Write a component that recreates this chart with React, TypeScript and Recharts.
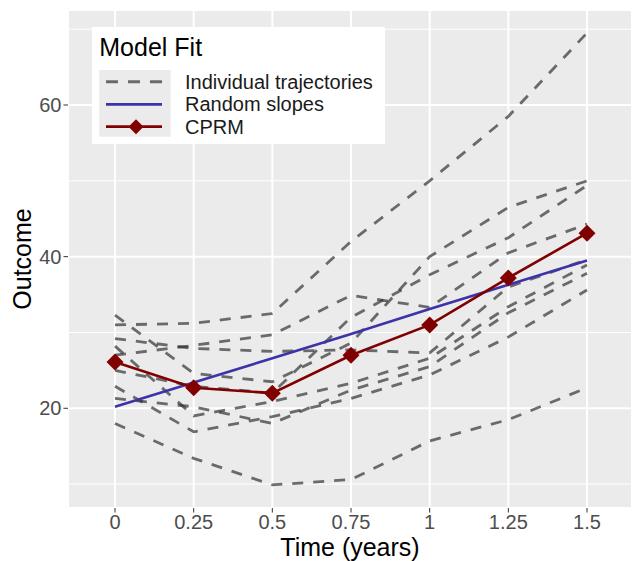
import React from 'react';
import { LineChart, Line, XAxis, YAxis, CartesianGrid, ReferenceLine, Legend } from 'recharts';

const times = [0, 0.25, 0.5, 0.75, 1, 1.25, 1.5];

const trajA = [31.0, 31.2, 32.5, 42.0, 50.0, 58.5, 69.5];
const trajB = [27.0, 28.3, 29.7, 34.9, 33.3, 40.5, 44.3];
const trajC = [29.2, 27.9, 27.5, 27.7, 27.3, 36.0, 39.6];
const trajD = [32.3, 24.6, 23.5, 28.6, 40.0, 46.5, 50.0];
const trajE = [25.0, 22.9, 22.0, 32.0, 37.6, 42.5, 49.4];
const trajF = [28.2, 19.0, 20.9, 23.3, 26.6, 33.4, 38.9];
const trajG = [21.3, 20.2, 18.0, 22.4, 25.5, 32.6, 37.8];
const trajH = [22.9, 16.9, 18.9, 21.3, 24.4, 29.4, 35.6];
const trajI = [18.0, 13.4, 9.9, 10.6, 15.7, 18.5, 22.7];

const individualSeries = [trajA, trajB, trajC, trajD, trajE, trajF, trajG, trajH, trajI];
const randomSlopes = [20.2, 23.4, 26.6, 29.8, 33.1, 36.3, 39.5];
const cprm = [26.1, 22.7, 22.0, 27.0, 31.0, 37.2, 43.1];

const xTicks = [0, 0.25, 0.5, 0.75, 1, 1.25, 1.5];
const yTicks = [20, 40, 60];
const yMinor = [10, 30, 50, 70];
const xDomain = [-0.1494, 1.643];
const yDomain = [6.85, 72.53];

const legendTitle = 'Model Fit';
const legendLabels = ['Individual trajectories', 'Random slopes', 'CPRM'];
const xTitle = 'Time (years)';
const yTitle = 'Outcome';

const FONT = '"Liberation Sans", Arial, Helvetica, sans-serif';
const IND_COLOR = '#333333';
const RS_COLOR = '#3D33A8';
const CPRM_COLOR = '#800000';
const DASH = '11 10';

const data = times.map((t, i) => {
  const row: Record<string, number> = { time: t, rs: randomSlopes[i], cprm: cprm[i] };
  individualSeries.forEach((s, j) => {
    row['ind' + j] = s[i];
  });
  return row;
});

const Diamond = (props: any) => {
  const { cx, cy } = props;
  if (cx == null || cy == null) return null;
  const r = 8.5;
  return (
    <polygon
      points={`${cx},${cy - r} ${cx + r},${cy} ${cx},${cy + r} ${cx - r},${cy}`}
      fill={CPRM_COLOR}
    />
  );
};

const renderLegend = () => {
  const rowY = [54.7, 77.3, 99.7];
  return (
    <svg width={293} height={117} style={{ display: 'block' }}>
      <rect x={0} y={0} width={293} height={117} fill="#FFFFFF" />
      <text x={7.3} y={29} fontSize={25} fill="#000" fontFamily={FONT}>
        {legendTitle}
      </text>
      <rect x={7.3} y={43} width={71.4} height={66.7} fill="#EBEBEB" />
      <line
        x1={14}
        x2={70}
        y1={rowY[0]}
        y2={rowY[0]}
        stroke={IND_COLOR}
        strokeOpacity={0.7}
        strokeWidth={3}
        strokeDasharray="12 10"
      />
      <line x1={14} x2={70} y1={rowY[1]} y2={rowY[1]} stroke={RS_COLOR} strokeWidth={2.8} />
      <line x1={14} x2={70} y1={rowY[2]} y2={rowY[2]} stroke={CPRM_COLOR} strokeWidth={2.8} />
      <polygon
        points={`44,${rowY[2] - 7.5} 51.5,${rowY[2]} 44,${rowY[2] + 7.5} 36.5,${rowY[2]}`}
        fill={CPRM_COLOR}
      />
      {legendLabels.map((l, i) => (
        <text key={l} x={93} y={rowY[i] + 7} fontSize={20} fill="#1a1a1a" fontFamily={FONT}>
          {l}
        </text>
      ))}
    </svg>
  );
};

export default function App() {
  return (
    <div style={{ position: 'absolute', left: 0, top: 0 }}>
      <LineChart
        width={632}
        height={561}
        data={data}
        margin={{ top: 10, right: 0, left: 0, bottom: 0 }}
      >
        <CartesianGrid fill="#EBEBEB" stroke="#FFFFFF" strokeWidth={2} />
        {yMinor.map((v) => (
          <ReferenceLine key={v} y={v} stroke="#FFFFFF" strokeWidth={1} ifOverflow="hidden" />
        ))}
        <XAxis
          dataKey="time"
          type="number"
          domain={xDomain}
          allowDataOverflow
          ticks={xTicks}
          interval={0}
          height={53}
          axisLine={false}
          tickLine={{ stroke: '#333333' }}
          tickSize={4.5}
          tickMargin={2}
          tick={{ fill: '#4D4D4D', fontSize: 20, fontFamily: FONT }}
          label={{
            value: xTitle,
            position: 'insideBottom',
            offset: 5,
            fill: '#000',
            fontSize: 25,
            fontFamily: FONT,
          }}
        />
        <YAxis
          type="number"
          domain={yDomain}
          allowDataOverflow
          ticks={yTicks}
          interval={0}
          width={68}
          axisLine={false}
          tickLine={{ stroke: '#333333' }}
          tickSize={4.5}
          tickMargin={2}
          tick={{ fill: '#4D4D4D', fontSize: 20, fontFamily: FONT }}
          label={{
            value: yTitle,
            angle: -90,
            position: 'insideLeft',
            offset: 21.7,
            fill: '#000',
            fontSize: 25,
            fontFamily: FONT,
            style: { textAnchor: 'middle' },
          }}
        />
        {individualSeries.map((_, j) => (
          <Line
            key={'ind' + j}
            dataKey={'ind' + j}
            type="linear"
            stroke={IND_COLOR}
            strokeOpacity={0.7}
            strokeWidth={2.8}
            strokeDasharray={DASH}
            dot={false}
            activeDot={false}
            isAnimationActive={false}
          />
        ))}
        <Line
          dataKey="rs"
          type="linear"
          stroke={RS_COLOR}
          strokeWidth={2.6}
          dot={false}
          activeDot={false}
          isAnimationActive={false}
        />
        <Line
          dataKey="cprm"
          type="linear"
          stroke={CPRM_COLOR}
          strokeWidth={2.6}
          dot={<Diamond />}
          activeDot={false}
          isAnimationActive={false}
        />
        <Legend
          content={renderLegend}
          layout="vertical"
          align="center"
          verticalAlign="middle"
          wrapperStyle={{ left: 92, top: 27, width: 293, height: 117 }}
        />
      </LineChart>
    </div>
  );
}
